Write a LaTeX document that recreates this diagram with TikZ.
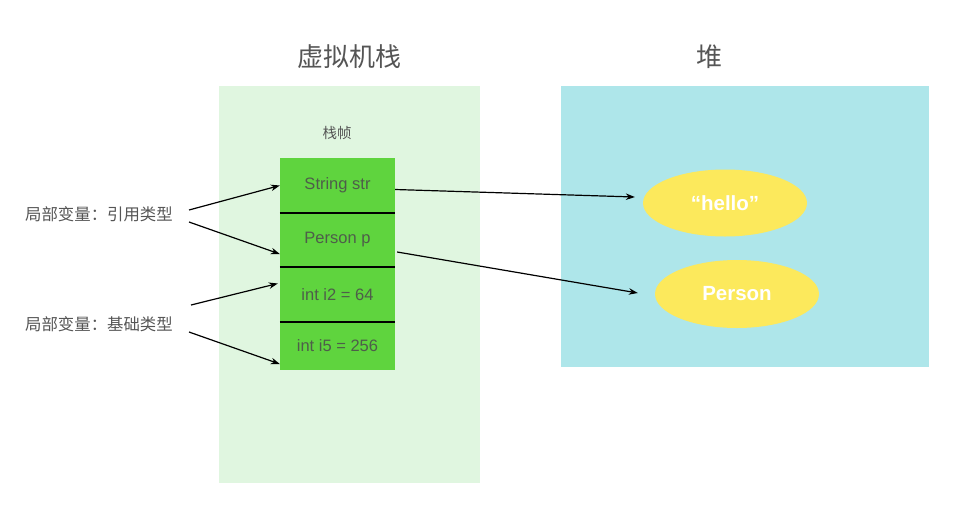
\documentclass[tikz,border=0pt]{standalone}
\usepackage{fontspec}
\setmainfont{Liberation Sans}
\newfontfamily\cjk{Noto Sans CJK SC}
\usetikzlibrary{arrows.meta,shapes.geometric}
\definecolor{stackbg}{HTML}{E0F6E0}
\definecolor{heapbg}{HTML}{AEE6EA}
\definecolor{cellgreen}{HTML}{5FD43E}
\definecolor{ovalyellow}{HTML}{FCE95C}
\definecolor{txtgray}{HTML}{555555}
\definecolor{celltxt}{HTML}{4E5E4A}
\tikzset{
  areabox/.style={draw=none,inner sep=0pt,minimum width=#1},
  cellbox/.style={fill=cellgreen,draw=none,inner sep=0pt,minimum width=115pt,text=celltxt,font=\fontsize{16.5}{19}\selectfont},
  oval/.style={ellipse,fill=ovalyellow,draw=none,inner sep=0pt,minimum width=164pt,minimum height=67pt,text=white,font=\bfseries\fontsize{20.5}{24}\selectfont},
  titletxt/.style={text=txtgray,font=\cjk\fontsize{26}{30}\selectfont,inner sep=0pt},
  sidelabel/.style={text=txtgray,font=\cjk\fontsize{16.4}{19}\selectfont,inner sep=0pt,anchor=west},
  ptr/.style={-{Stealth[length=9pt,width=6.5pt]},line width=1.2pt,black},
  divider/.style={line width=1.6pt,black}
}
\begin{document}
\begin{tikzpicture}[x=1pt,y=-1pt]
\useasboundingbox (0,0) rectangle (956,531);
% backgrounds
\node[areabox=261pt,minimum height=397pt,fill=stackbg] (stack) at (349.5,284.5) {};
\node[areabox=368pt,minimum height=281pt,fill=heapbg] (heap) at (745,226.5) {};
% titles
\node[titletxt] (stacktitle) at (349,57) {虚拟机栈};
\node[titletxt] (heaptitle) at (709,57) {堆};
\node[text=txtgray,font=\cjk\fontsize{14.5}{17}\selectfont,inner sep=0pt] (frame) at (337,133) {栈帧};
% cells
\node[cellbox,minimum height=55pt] (c1) at (337.5,185.5) {String str};
\node[cellbox,minimum height=54pt] (c2) at (337.5,240) {Person p};
\node[cellbox,minimum height=55pt] (c3) at (337.5,294.5) {int i2 = 64};
\node[cellbox,minimum height=48pt] (c4) at (337.5,346) {int i5 = 256};
\draw[divider] (c1.south west) -- (c1.south east);
\draw[divider] (c2.south west) -- (c2.south east);
\draw[divider] (c3.south west) -- (c3.south east);
% heap objects
\node[oval] (hello) at (725,203) {“hello”};
\node[oval,minimum height=68pt] (person) at (737,294) {Person};
% side labels
\node[sidelabel] (ref) at (25,214) {局部变量：引用类型};
\node[sidelabel] (prim) at (25,324) {局部变量：基础类型};
% arrows from labels
\draw[ptr] ([shift={(16,-4)}]ref.east) -- (c1.west);
\draw[ptr] ([shift={(16,8)}]ref.east) -- ([shift={(0,14)}]c2.west);
\draw[ptr] ([shift={(18,-19)}]prim.east) -- ([shift={(-2,-11)}]c3.west);
\draw[ptr] ([shift={(16,8)}]prim.east) -- ([shift={(0,18)}]c4.west);
% pointers to heap
\draw[ptr] ([shift={(0,4)}]c1.east) -- ([shift={(-8,-6)}]hello.west);
\draw[ptr] ([shift={(2,12)}]c2.east) -- ([shift={(-17,-1)}]person.west);
\end{tikzpicture}
\end{document}
